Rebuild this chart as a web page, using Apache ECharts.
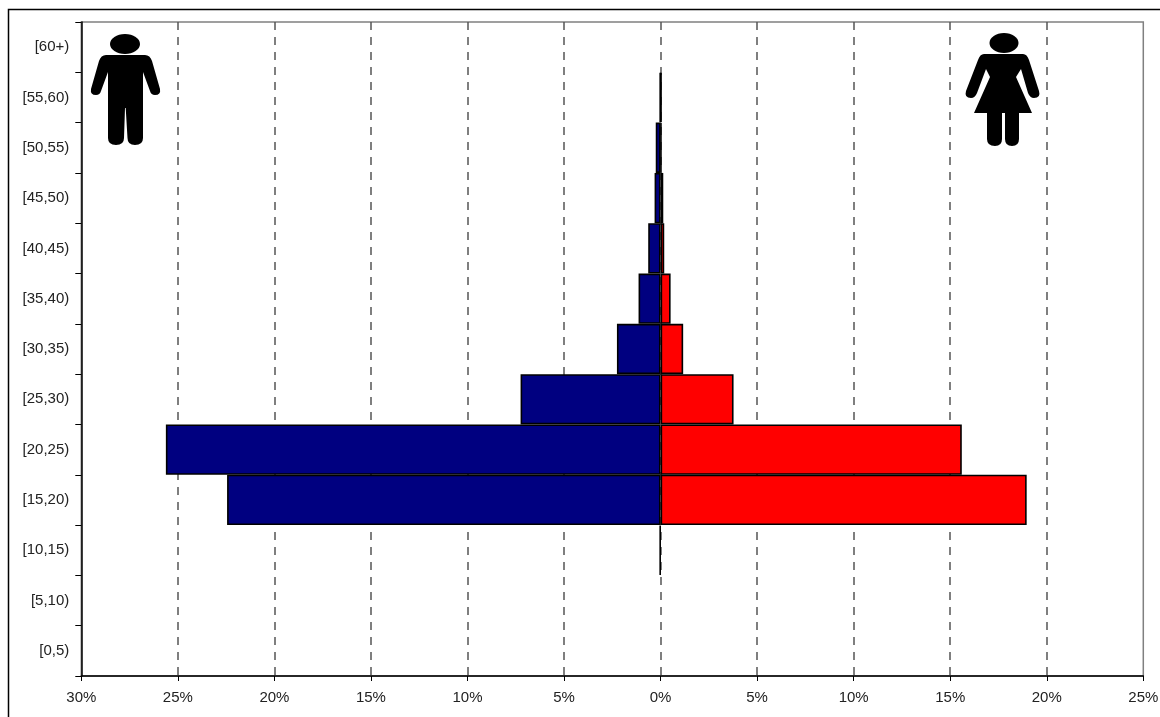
<!DOCTYPE html>
<html>
<head>
<meta charset="utf-8">
<style>html,body{margin:0;padding:0;background:#fff}#c{width:1160px;height:717px}</style>
<script src="https://cdn.jsdelivr.net/npm/echarts@6/dist/echarts.min.js"></script>
</head>
<body>
<div id="c"></div>
<script>
const categories = ['[0,5)','[5,10)','[10,15)','[15,20)','[20,25)','[25,30)','[30,35)','[35,40)','[40,45)','[45,50)','[50,55)','[55,60)','[60+)'];
const malePct   = [null,null,0.04,22.45,25.62,7.25,2.26,1.14,0.64,0.31,0.25,0.04,null];
const femalePct = [null,null,null,18.96,15.6,3.78,1.17,0.52,0.19,0.14,0.04,0.05,null];
const manIcon = 'M106,55 L145,55 Q150,55 152,61 L160,89 Q161,95 155,95 Q151,95 150,91 L143,72 L143,138 Q143,145 135,145 Q127.5,145 127.5,138 L125.7,108 L125,108 L124,138 Q124,145 116,145 Q108,145 108,138 L108,72 L101,91 Q100,95 96,95 Q90,95 91,89 L99,61 Q101,55 106,55 Z';
const womanIcon = 'M984,54 L1023,54 Q1027,54 1029,60 L1039,91 Q1041,98 1034,98 Q1030,98 1028,93 L1021,69 L1016,77 L1032,113 L1019,113 L1019,139 Q1019,146 1012,146 Q1005,146 1005,139 L1005,113 L1002,113 L1002,139 Q1002,146 995,146 Q987,146 987,139 L987,113 L974,113 L990,77 L986,69 L977,93 Q975,98 971,98 Q964,98 966,91 L978,60 Q980,54 984,54 Z';

echarts.graphic.registerShape('manIcon', echarts.graphic.extendPath(manIcon, {}));
echarts.graphic.registerShape('womanIcon', echarts.graphic.extendPath(womanIcon, {}));

const chart = echarts.init(document.getElementById('c'), null, {renderer:'canvas'});
const font = {fontFamily:'Liberation Sans, Arial, sans-serif', fontSize:15, color:'#222'};
chart.setOption({
  animation:false,
  backgroundColor:'#fff',
  grid:{left:81.3,right:16.7,top:22,bottom:41,outerBoundsMode:'none',containLabel:false,show:true,borderColor:'#808080',borderWidth:1.5,backgroundColor:'transparent'},
  xAxis:{
    type:'value',min:-30,max:25,interval:5,
    axisLine:{show:true,onZero:false,lineStyle:{color:'#000',width:1.5}},
    axisTick:{show:true,length:5,lineStyle:{color:'#000',width:1}},
    axisLabel:Object.assign({margin:14,formatter:v=>Math.abs(v)+'%'},font),
    splitLine:{show:true,showMinLine:false,showMaxLine:false,lineStyle:{color:'#555',type:[8,7],width:1.5}}
  },
  yAxis:{
    type:'category',data:categories,boundaryGap:true,
    axisLine:{show:true,onZero:false,lineStyle:{color:'#000',width:1.5}},
    axisTick:{show:true,length:6,alignWithLabel:false,lineStyle:{color:'#000',width:1}},
    axisLabel:Object.assign({margin:12,interval:0,padding:[4,0,0,0]},font),
    splitLine:{show:false}
  },
  series:[
    {name:'Male',type:'bar',barWidth:'100%',barGap:'-100%',
     data:malePct.map(v=>v==null?null:-v),
     itemStyle:{color:'#000080',borderColor:'#000',borderWidth:1.6}},
    {name:'Female',type:'bar',barWidth:'100%',barGap:'-100%',
     data:femalePct,
     itemStyle:{color:'#ff0000',borderColor:'#000',borderWidth:1.6}}
  ],
  graphic:[
    {type:'rect',silent:true,shape:{x:8.5,y:9.5,width:1170,height:730},style:{fill:'none',stroke:'#000',lineWidth:1.5}},
    {type:'ellipse',silent:true,shape:{cx:125,cy:44,rx:15,ry:10},style:{fill:'#000'}},
    {type:'manIcon',silent:true,style:{fill:'#000'}},
    {type:'ellipse',silent:true,shape:{cx:1004,cy:43,rx:14.5,ry:10},style:{fill:'#000'}},
    {type:'womanIcon',silent:true,style:{fill:'#000'}}
  ]
});
</script>
</body>
</html>
